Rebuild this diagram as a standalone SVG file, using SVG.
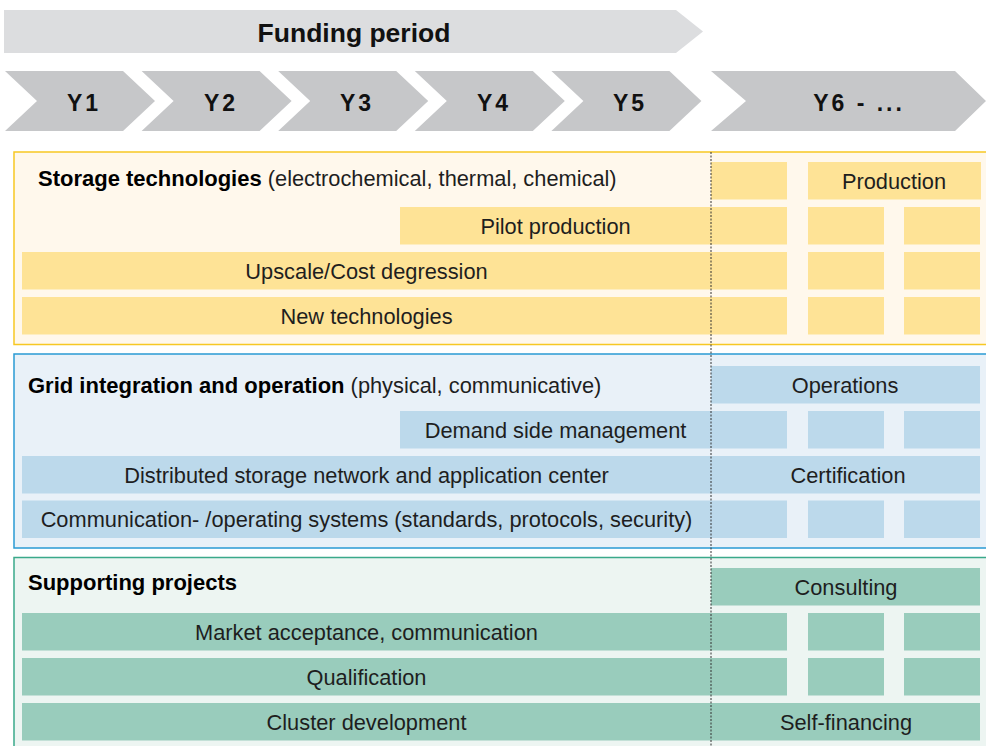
<svg xmlns="http://www.w3.org/2000/svg" width="986" height="746" viewBox="0 0 986 746">
<style>
  .hdr{font-family:"Liberation Sans",Arial,sans-serif;font-weight:bold;fill:#111}
  .yr{font-family:"Liberation Sans",Arial,sans-serif;font-weight:bold;font-size:23px;letter-spacing:3px;fill:#111;text-anchor:middle}
  .chev{fill:#c6c7c9}
  .t{font-family:"Liberation Sans",Arial,sans-serif;font-size:21.8px;fill:#1e1e1e;text-anchor:middle}
  .ttl{font-family:"Liberation Sans",Arial,sans-serif;font-size:21.8px;fill:#1e1e1e}
  .ttl tspan.b{font-weight:bold;font-size:22px;fill:#000}
  .ry{fill:#fee396}
  .rb{fill:#bcd9eb}
  .rg{fill:#99ccbc}
</style>
<g id="timeline">
  <polygon points="4,10 676,10 703,31.5 676,53 4,53" fill="#dcdddf"/>
  <text class="hdr" x="354" y="42" font-size="26.5" text-anchor="middle">Funding period</text>
  <polygon class="chev" points="5,71 123,71 155,101 123,131 5,131 37,101"/>
  <polygon class="chev" points="141.6,71 259.6,71 291.6,101 259.6,131 141.6,131 173.6,101"/>
  <polygon class="chev" points="278.2,71 396.2,71 428.2,101 396.2,131 278.2,131 310.2,101"/>
  <polygon class="chev" points="414.8,71 532.8,71 564.8,101 532.8,131 414.8,131 446.8,101"/>
  <polygon class="chev" points="551.4,71 669.4,71 701.4,101 669.4,131 551.4,131 583.4,101"/>
  <polygon class="chev" points="711,71 955,71 986,101 955,131 711,131 746,101"/>
  <text class="yr" x="84" y="111">Y1</text>
  <text class="yr" x="221" y="111">Y2</text>
  <text class="yr" x="357" y="111">Y3</text>
  <text class="yr" x="494" y="111">Y4</text>
  <text class="yr" x="630" y="111">Y5</text>
  <text class="yr" x="859" y="111" letter-spacing="2.5">Y6 - ...</text>
</g>
<g id="storage">
  <rect x="14" y="152" width="975" height="192.5" fill="#fff8ec" stroke="#f7c823" stroke-width="1.5"/>
  <rect class="ry" x="711" y="162" width="76" height="37.5"/>
  <rect class="ry" x="808" y="162" width="173" height="37.5"/>
  <rect class="ry" x="400" y="207" width="387" height="37.5"/>
  <rect class="ry" x="808" y="207" width="76" height="37.5"/>
  <rect class="ry" x="904" y="207" width="76" height="37.5"/>
  <rect class="ry" x="22" y="252" width="765" height="37.5"/>
  <rect class="ry" x="808" y="252" width="76" height="37.5"/>
  <rect class="ry" x="904" y="252" width="76" height="37.5"/>
  <rect class="ry" x="22" y="297" width="765" height="37.5"/>
  <rect class="ry" x="808" y="297" width="76" height="37.5"/>
  <rect class="ry" x="904" y="297" width="76" height="37.5"/>
  <text class="ttl" x="38" y="186"><tspan class="b">Storage technologies</tspan> (electrochemical, thermal, chemical)</text>
  <text class="t" x="894" y="189">Production</text>
  <text class="t" x="555.5" y="234">Pilot production</text>
  <text class="t" x="366.5" y="279">Upscale/Cost degression</text>
  <text class="t" x="366.5" y="324">New technologies</text>
</g>
<g id="grid">
  <rect x="14" y="354" width="975" height="194" fill="#e9f1f8" stroke="#2a9ad4" stroke-width="1.5"/>
  <rect class="rb" x="711" y="366" width="269" height="37.5"/>
  <rect class="rb" x="400" y="411" width="387" height="37.5"/>
  <rect class="rb" x="808" y="411" width="76" height="37.5"/>
  <rect class="rb" x="904" y="411" width="76" height="37.5"/>
  <rect class="rb" x="22" y="456" width="958" height="37.5"/>
  <rect class="rb" x="22" y="500.5" width="765" height="37.5"/>
  <rect class="rb" x="808" y="500.5" width="76" height="37.5"/>
  <rect class="rb" x="904" y="500.5" width="76" height="37.5"/>
  <text class="ttl" x="28" y="393"><tspan class="b">Grid integration and operation</tspan> (physical, communicative)</text>
  <text class="t" x="845" y="393">Operations</text>
  <text class="t" x="555.5" y="438">Demand side management</text>
  <text class="t" x="366.5" y="483">Distributed storage network and application center</text>
  <text class="t" x="848" y="483">Certification</text>
  <text class="t" x="366.5" y="527">Communication- /operating systems (standards, protocols, security)</text>
</g>
<g id="supporting">
  <rect x="14" y="557.5" width="975" height="195" fill="#edf5f2" stroke="#3aa98a" stroke-width="1.5"/>
  <rect class="rg" x="711" y="568" width="269" height="37.5"/>
  <rect class="rg" x="22" y="613" width="765" height="37.5"/>
  <rect class="rg" x="808" y="613" width="76" height="37.5"/>
  <rect class="rg" x="904" y="613" width="76" height="37.5"/>
  <rect class="rg" x="22" y="658" width="765" height="37.5"/>
  <rect class="rg" x="808" y="658" width="76" height="37.5"/>
  <rect class="rg" x="904" y="658" width="76" height="37.5"/>
  <rect class="rg" x="22" y="703" width="958" height="37.5"/>
  <text class="ttl" x="28" y="590"><tspan class="b">Supporting projects</tspan></text>
  <text class="t" x="846" y="595">Consulting</text>
  <text class="t" x="366.5" y="640">Market acceptance, communication</text>
  <text class="t" x="366.5" y="685">Qualification</text>
  <text class="t" x="366.5" y="730">Cluster development</text>
  <text class="t" x="846" y="730">Self-financing</text>
</g>
<g id="connectors">
  <line x1="711" y1="152" x2="711" y2="746" stroke="#333" stroke-width="1" stroke-dasharray="2,1.5"/>
</g>
</svg>
